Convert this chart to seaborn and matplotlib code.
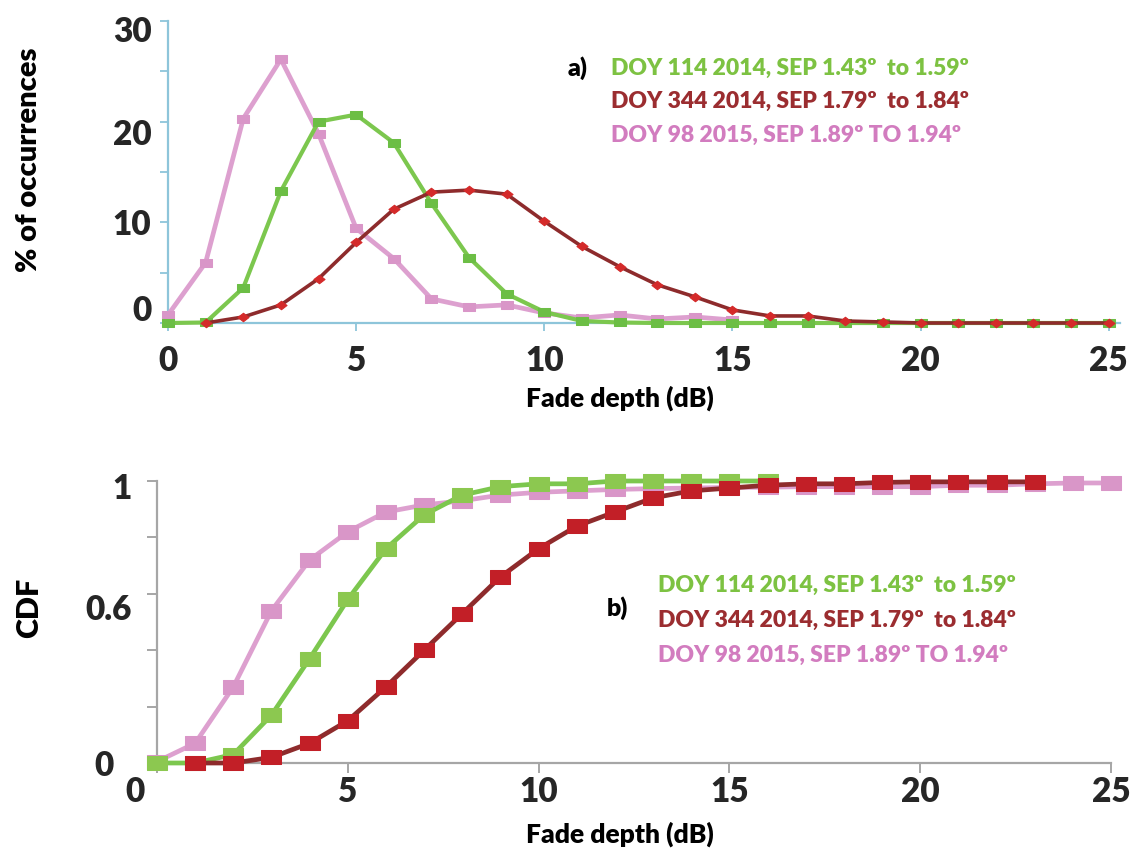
import numpy as np
import pandas as pd
import matplotlib
matplotlib.use("Agg")
import matplotlib.pyplot as plt
import matplotlib.transforms as mtransforms
from matplotlib.path import Path
import seaborn as sns

# ---------------- data ----------------
# a) percentage of occurrences vs fade depth
pdf_x_green = list(range(0, 26))
pdf_green = [0.0, 0.05, 3.5, 13.1, 20.0, 20.7, 17.9, 11.9, 6.5, 2.9, 1.1, 0.2, 0.05, 0.0,
             0.0, 0.0, 0.0, 0.0, 0.0, 0.0, 0.0, 0.0, 0.0, 0.0, 0.0, 0.0]
pdf_x_red = list(range(1, 26))
pdf_red = [0.0, 0.6, 1.8, 4.4, 8.0, 11.3, 13.0, 13.2, 12.8, 10.1, 7.6, 5.6, 3.8, 2.6, 1.3,
           0.7, 0.7, 0.2, 0.1, 0.0, 0.0, 0.0, 0.0, 0.0, 0.0]
pdf_x_pink = list(range(0, 16))
pdf_pink = [0.8, 6.0, 20.3, 26.2, 18.8, 9.4, 6.4, 2.4, 1.6, 1.8, 1.0, 0.5, 0.8, 0.4, 0.6, 0.3]

# b) CDF vs fade depth
cdf_x_green = list(range(0, 17))
cdf_green = [0.0, 0.0, 0.03, 0.17, 0.37, 0.58, 0.76, 0.88, 0.95, 0.98, 0.99, 0.99, 1.0,
             1.0, 1.0, 1.0, 1.0]
cdf_x_red = list(range(1, 24))
cdf_red = [0.0, 0.0, 0.02, 0.07, 0.15, 0.27, 0.40, 0.53, 0.66, 0.76, 0.84, 0.89, 0.94,
           0.965, 0.975, 0.985, 0.99, 0.99, 0.995, 0.997, 0.997, 0.997, 0.997]
cdf_x_pink = list(range(0, 26))
cdf_pink = [0.005, 0.07, 0.27, 0.54, 0.72, 0.82, 0.89, 0.915, 0.93, 0.95, 0.96, 0.965,
            0.97, 0.973, 0.975, 0.977, 0.978, 0.98, 0.98, 0.98, 0.98, 0.985, 0.985, 0.99,
            0.993, 0.993]

legend_labels = ["DOY 114 2014, SEP 1.43º  to 1.59º",
                 "DOY 344 2014, SEP 1.79º  to 1.84º",
                 "DOY 98 2015, SEP 1.89º TO 1.94º"]
legend_colors = ["#7DC242", "#9B2D30", "#D27CBF"]

x_ticks = [0, 5, 10, 15, 20, 25]
top_y_ticks = [0, 10, 20, 30]
top_y_minor = [5, 15, 25]
cdf_y_ticks = [0, 0.2, 0.4, 0.6, 0.8, 1.0]
cdf_y_ticklabels = ["0", "", "", "0.6", "", "1"]

# ---------------- style ----------------
sns.set_theme(style="white")
plt.rcParams["font.family"] = ["Lato", "DejaVu Sans"]
plt.rcParams["font.weight"] = "heavy"
WT = "heavy"

W, H = 1130, 857
fig = plt.figure(figsize=(W / 100, H / 100), dpi=100)


def fx(x):
    return x / W


def fy(y):
    return 1 - y / H


# stretched markers (wider than tall)
rect_marker = Path([(-1.4, -1), (1.4, -1), (1.4, 1), (-1.4, 1), (-1.4, -1)],
                   [Path.MOVETO, Path.LINETO, Path.LINETO, Path.LINETO, Path.CLOSEPOLY])
diam_marker = Path([(-1.3, 0), (0, 1), (1.3, 0), (0, -1), (-1.3, 0)],
                   [Path.MOVETO, Path.LINETO, Path.LINETO, Path.LINETO, Path.CLOSEPOLY])

GREEN_L, GREEN_M = "#7CC74E", "#6CBE45"
PINK_L, PINK_M = "#DDA0CF", "#D996C8"
RED_L, RED_M = "#8E2B2C", "#D42A2A"

# ---------------- top panel ----------------
ax1 = fig.add_axes([fx(168), fy(323), fx(1120) - fx(168), fy(21) - fy(323)])
sns.lineplot(x=pdf_x_pink, y=pdf_pink, ax=ax1, color=PINK_L, lw=3.4, marker=rect_marker,
             ms=9, mfc=PINK_M, mec=PINK_M, clip_on=False, zorder=3)
sns.lineplot(x=pdf_x_green, y=pdf_green, ax=ax1, color=GREEN_L, lw=3.0, marker=rect_marker,
             ms=8, mfc=GREEN_M, mec=GREEN_M, clip_on=False, zorder=4)
sns.lineplot(x=pdf_x_red, y=pdf_red, ax=ax1, color=RED_L, lw=2.6, marker=diam_marker,
             ms=8, mfc=RED_M, mec=RED_M, clip_on=False, zorder=5)
ax1.set_xlim(0, 25.3)
ax1.set_ylim(0, 30)
ax1.set_xticks(x_ticks)
ax1.set_yticks(top_y_ticks)
ax1.set_yticks(top_y_minor, minor=True)
ax1.set_xticklabels([str(v) for v in x_ticks], fontweight=WT)
ax1.set_yticklabels([str(v) for v in top_y_ticks], fontweight=WT)
for s in ["top", "right"]:
    ax1.spines[s].set_visible(False)
for s in ["left", "bottom"]:
    ax1.spines[s].set_color("#8EC5DA")
    ax1.spines[s].set_linewidth(1.6)
ax1.tick_params(axis="both", which="both", direction="out", length=6, width=1.3,
                color="#8EC5DA", labelsize=24)
ax1.tick_params(axis="x", pad=10, bottom=True)
ax1.tick_params(axis="y", which="both", pad=6, left=True)
ax1.set_xlabel("")
ax1.set_ylabel("")
# per-label vertical offsets matching the original
y_off = {0: 15, 10: 0, 20: -10, 30: -8}
for lab, v in zip(ax1.get_yticklabels(), top_y_ticks):
    lab.set_transform(lab.get_transform() +
                      mtransforms.ScaledTranslation(0, y_off[v] / 100, fig.dpi_scale_trans))

# ---------------- bottom panel ----------------
ax2 = fig.add_axes([fx(157), fy(763), fx(1111) - fx(157), fy(481) - fy(763)])
sns.lineplot(x=cdf_x_pink, y=cdf_pink, ax=ax2, color=PINK_L, lw=3.4, marker=rect_marker,
             ms=14, mfc=PINK_M, mec=PINK_M, clip_on=False, zorder=3)
sns.lineplot(x=cdf_x_green, y=cdf_green, ax=ax2, color=GREEN_L, lw=3.4, marker=rect_marker,
             ms=14, mfc="#8CC850", mec="#8CC850", clip_on=False, zorder=4)
sns.lineplot(x=cdf_x_red, y=cdf_red, ax=ax2, color=RED_L, lw=3.4, marker=rect_marker,
             ms=14, mfc="#C21F27", mec="#C21F27", clip_on=False, zorder=5)
ax2.set_xlim(0, 25)
ax2.set_ylim(0, 1)
ax2.set_xticks(x_ticks)
ax2.set_xticklabels([str(v) for v in x_ticks], fontweight=WT)
ax2.set_yticks(cdf_y_ticks)
ax2.set_yticklabels(cdf_y_ticklabels, fontweight=WT)
for s in ["top", "right"]:
    ax2.spines[s].set_visible(False)
for s in ["left", "bottom"]:
    ax2.spines[s].set_color("#A6A6A6")
    ax2.spines[s].set_linewidth(1.6)
ax2.tick_params(axis="both", direction="out", length=7, width=1.4, color="#A6A6A6",
                labelsize=24)
ax2.tick_params(axis="x", pad=2, bottom=True)
ax2.tick_params(axis="y", pad=11, left=True)
ax2.set_xlabel("")
ax2.set_ylabel("")
xl = ax2.get_xticklabels()
xl[0].set_transform(xl[0].get_transform() +
                    mtransforms.ScaledTranslation(-0.22, 0, fig.dpi_scale_trans))
yl = ax2.get_yticklabels()
yl[0].set_transform(yl[0].get_transform() +
                    mtransforms.ScaledTranslation(-0.18, 0, fig.dpi_scale_trans))
yl[3].set_transform(yl[3].get_transform() +
                    mtransforms.ScaledTranslation(0, -0.13, fig.dpi_scale_trans))
yl[5].set_transform(yl[5].get_transform() +
                    mtransforms.ScaledTranslation(0, -0.05, fig.dpi_scale_trans))

# ---------------- axis titles ----------------
fig.text(fx(29), fy(160), "% of occurrences", rotation=90, ha="center", va="center",
         fontsize=21, fontweight=WT, color="black")
fig.text(fx(29), fy(608), "CDF", rotation=90, ha="center", va="center",
         fontsize=22, fontweight=WT, color="black")
fig.text(fx(620), fy(398), "Fade depth (dB)", ha="center", va="center",
         fontsize=19, fontweight=WT, color="black")
fig.text(fx(620), fy(834), "Fade depth (dB)", ha="center", va="center",
         fontsize=19, fontweight=WT, color="black")

# ---------------- legends ----------------
fig.text(fx(578), fy(68), "a)", ha="center", va="center", fontsize=18,
         fontweight=WT, color="black")
for lab, col, yy in zip(legend_labels, legend_colors, [68, 101, 135]):
    fig.text(fx(611), fy(yy), lab, ha="left", va="center", fontsize=16.5,
             fontweight=WT, color=col)
fig.text(fx(617), fy(608), "b)", ha="center", va="center", fontsize=18,
         fontweight=WT, color="black")
for lab, col, yy in zip(legend_labels, legend_colors, [585, 620, 655]):
    fig.text(fx(658), fy(yy), lab, ha="left", va="center", fontsize=16.5,
             fontweight=WT, color=col)

fig.savefig("out.png", dpi=100)
